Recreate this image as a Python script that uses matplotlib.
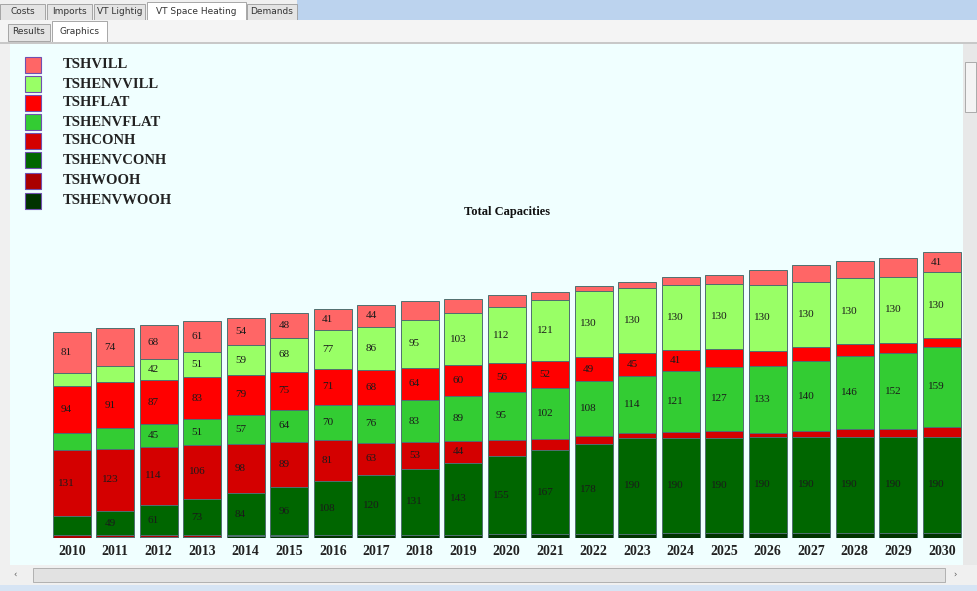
import numpy as np
import matplotlib.pyplot as plt
from matplotlib.patches import Rectangle

years = [str(y) for y in range(2010, 2031)]

# stacked from the bottom up
tshenvwooh = [0, 1, 1, 2, 3, 4, 5, 5, 6, 6, 7, 7, 8, 8, 9, 9, 10, 10, 10, 10, 10]
tshwooh = [5, 4, 4, 3, 2, 1, 0, 0, 0, 0, 0, 0, 0, 0, 0, 0, 0, 0, 0, 0, 0]
tshenvconh = [38, 49, 61, 73, 84, 96, 108, 120, 131, 143, 155, 167, 178, 190, 190, 190, 190, 190, 190, 190, 190]
tshconh = [131, 123, 114, 106, 98, 89, 81, 63, 53, 44, 33, 22, 16, 9, 11, 13, 7, 11, 15, 15, 20]
tshenvflat = [33, 40, 45, 51, 57, 64, 70, 76, 83, 89, 95, 102, 108, 114, 121, 127, 133, 140, 146, 152, 159]
tshflat = [94, 91, 87, 83, 79, 75, 71, 68, 64, 60, 56, 52, 49, 45, 41, 35, 31, 27, 23, 20, 17]
tshenvvill = [25, 33, 42, 51, 59, 68, 77, 86, 95, 103, 112, 121, 130, 130, 130, 130, 130, 130, 130, 130, 130]
tshvill = [81, 74, 68, 61, 54, 48, 41, 44, 37, 29, 24, 17, 10, 12, 15, 16, 29, 32, 35, 38, 41]

series = [
    ("TSHENVWOOH", tshenvwooh, "#003300"),
    ("TSHWOOH", tshwooh, "#aa0000"),
    ("TSHENVCONH", tshenvconh, "#006600"),
    ("TSHCONH", tshconh, "#d40000"),
    ("TSHENVFLAT", tshenvflat, "#33cc33"),
    ("TSHFLAT", tshflat, "#ff0000"),
    ("TSHENVVILL", tshenvvill, "#99ff66"),
    ("TSHVILL", tshvill, "#ff6666"),
]

W, H = 978, 591
fig = plt.figure(figsize=(W / 100, H / 100), dpi=100)
fig.patch.set_facecolor("#f0f0f0")


def px_rect(x, y, w, h, **kw):
    # rectangle in screen pixels (y from top)
    fig.patches.append(Rectangle((x / W, 1 - (y + h) / H), w / W, h / H,
                                 transform=fig.transFigure, figure=fig,
                                 zorder=-5, **kw))


def px_text(x, y, s, **kw):
    fig.text(x / W, 1 - y / H, s, **kw)


# window chrome: tab strips
px_rect(297, 0, 681, 20, facecolor="#bcd3ee", edgecolor="none")
tabs = [("Costs", 0, 45), ("Imports", 47, 92), ("VT Lightig", 94, 145),
        ("VT Space Heating", 147, 246), ("Demands", 247, 297)]
for name, x0, x1 in tabs:
    sel = name == "VT Space Heating"
    px_rect(x0, 2 if sel else 4, x1 - x0, 18 if sel else 16,
            facecolor="white" if sel else "#e4e4e4", edgecolor="#9a9a9a", lw=0.6)
    px_text((x0 + x1) / 2, 11, name, fontsize=6.5, ha="center", va="center", color="#333333")
px_rect(0, 20, W, 22, facecolor="#f4f4f4", edgecolor="none")
for name, x0, x1 in [("Results", 8, 50), ("Graphics", 52, 107)]:
    sel = name == "Graphics"
    px_rect(x0, 21 if sel else 24, x1 - x0, 21 if sel else 17,
            facecolor="white" if sel else "#e4e4e4", edgecolor="#9a9a9a", lw=0.6)
    px_text((x0 + x1) / 2, 32, name, fontsize=6.5, ha="center", va="center", color="#333333")
px_rect(0, 42, W, 2, facecolor="#c8c8c8", edgecolor="none")

# chart panel
px_rect(10, 44, 953, 521, facecolor="#f0ffff", edgecolor="none")
# vertical scrollbar
px_rect(963, 44, 15, 521, facecolor="#e8e8e8", edgecolor="none")
px_rect(965, 62, 11, 50, facecolor="#f4f4f4", edgecolor="#a0a0a0", lw=0.6)
# horizontal scrollbar
px_rect(10, 565, 953, 20, facecolor="#f0f0f0", edgecolor="none")
px_rect(33, 568, 912, 14, facecolor="#e2e2e2", edgecolor="#a8a8a8", lw=0.6)
px_text(15, 575, "\u2039", fontsize=6, ha="center", va="center", color="#555555")
px_text(955, 575, "\u203a", fontsize=6, ha="center", va="center", color="#555555")
px_rect(0, 585, W, 6, facecolor="#d6e4f4", edgecolor="none")

# legend, top-down order
legend_y = [65, 84, 103, 122, 141, 160, 181, 201]
for (name, _, color), y in zip(series[::-1], legend_y):
    px_rect(25, y - 8, 16, 16, facecolor=color, edgecolor="#7050b0", lw=0.8)
    px_text(63, y, name, fontsize=10.5, fontweight="bold", family="Liberation Serif",
            va="center", ha="left", color="#222222")

px_text(507, 212, "Total Capacities", fontsize=9, fontweight="bold",
        family="Liberation Serif", ha="center", va="center", color="#111111")

# bars
ax = fig.add_axes([50 / W, (H - 538) / H, 913.5 / W, 308 / H])
ax.set_zorder(2)
ax.set_facecolor("none")
x = np.arange(len(years))
bottom = np.zeros(len(years))
for name, vals, color in series:
    vals = np.array(vals, dtype=float)
    ax.bar(x, vals, bottom=bottom, width=0.87, color=color,
           edgecolor="#4f6f6f", linewidth=0.7)
    for xi, v, b in zip(x, vals, bottom):
        if v > 40:
            ax.text(xi - 0.12, b + v / 2, f"{int(v)}", ha="center", va="center",
                    fontsize=8, family="Liberation Serif", color="#1a1a1a")
    bottom += vals

ax.set_xlim(-0.5, len(years) - 0.5)
ax.set_ylim(0, 610)
ax.set_xticks(x)
ax.set_xticklabels(years, fontsize=10, fontweight="bold", family="Liberation Serif",
                   color="#222222")
ax.tick_params(axis="x", length=0, pad=5)
ax.set_yticks([])
for s in ax.spines.values():
    s.set_visible(False)

fig.savefig("out.png", dpi=100, facecolor=fig.get_facecolor())
